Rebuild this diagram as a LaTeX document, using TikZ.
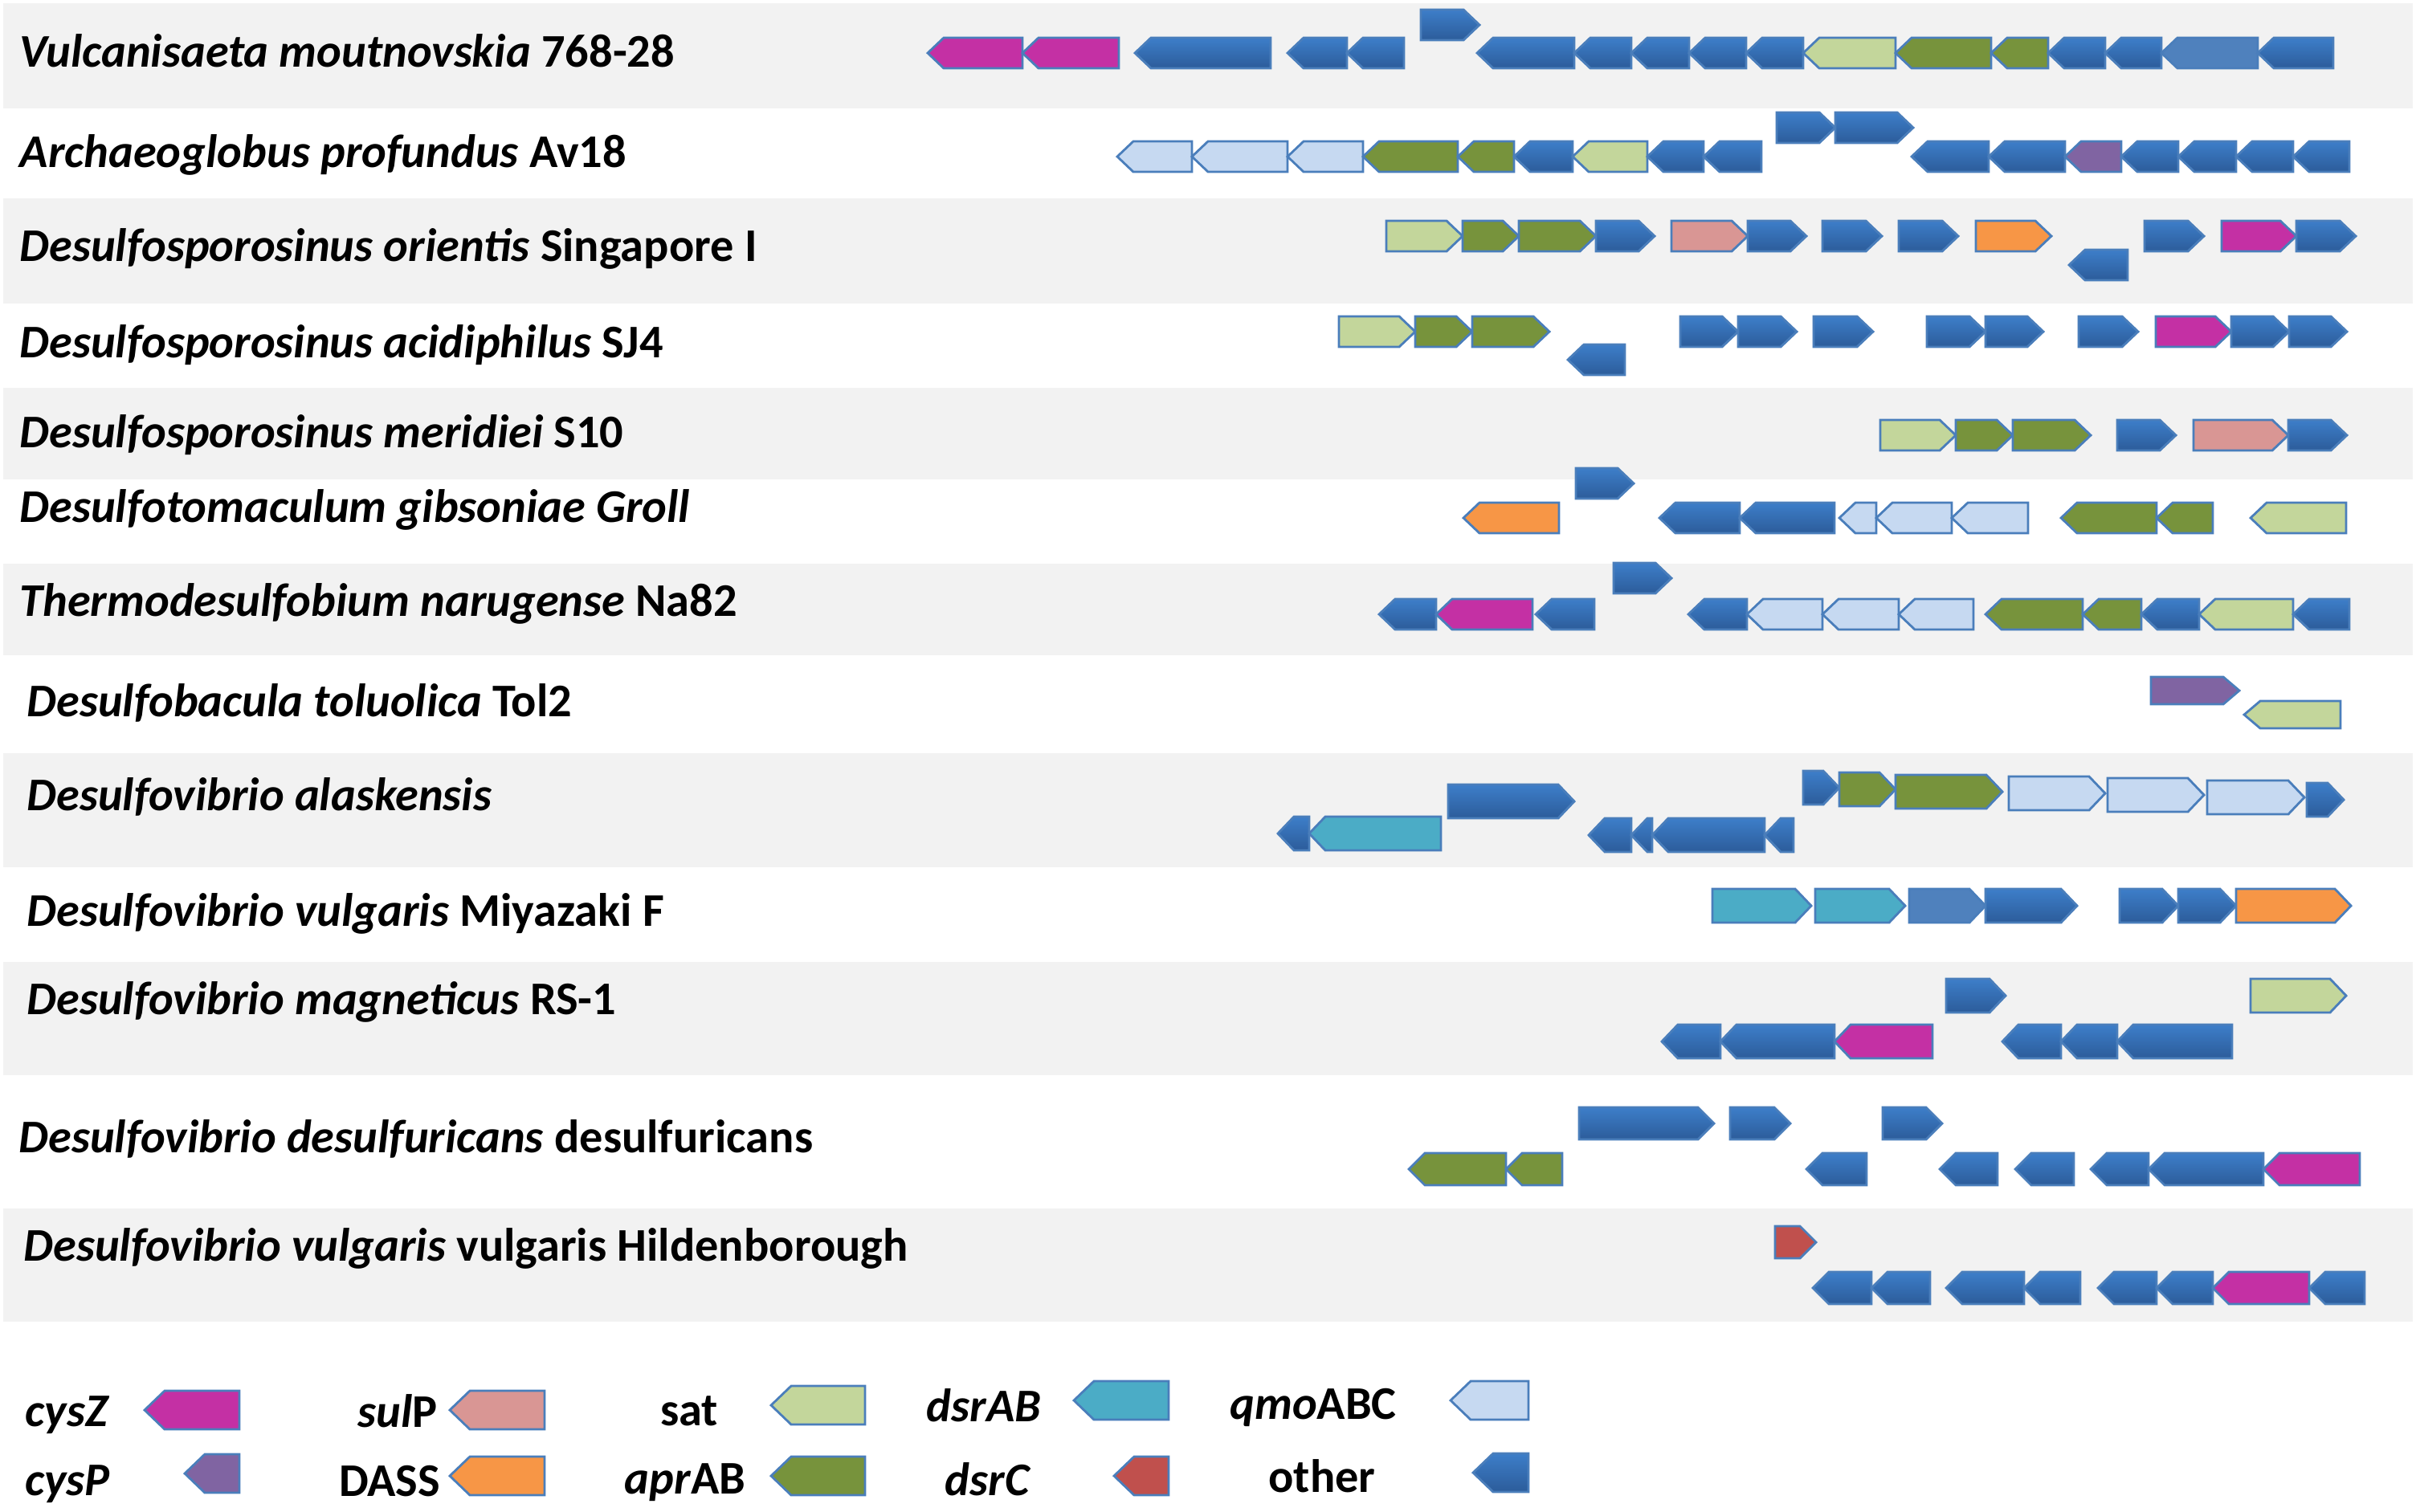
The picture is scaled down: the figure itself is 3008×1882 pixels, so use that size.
\documentclass[tikz,border=0pt]{standalone}
\usepackage{fontspec}
\setmainfont{Carlito}
\definecolor{bandgray}{RGB}{242,242,242}
\definecolor{genedge}{RGB}{74,126,187}
\definecolor{othtop}{RGB}{61,126,201}
\definecolor{othbot}{RGB}{44,92,154}
\definecolor{othflat}{RGB}{79,129,189}
\definecolor{cyszcol}{RGB}{196,48,164}
\definecolor{cyspcol}{RGB}{128,100,162}
\definecolor{sulpcol}{RGB}{217,150,148}
\definecolor{dasscol}{RGB}{247,150,70}
\definecolor{satcol}{RGB}{195,214,155}
\definecolor{aprcol}{RGB}{119,147,60}
\definecolor{dsrabcol}{RGB}{75,172,198}
\definecolor{dsrccol}{RGB}{192,80,77}
\definecolor{qmocol}{RGB}{198,217,241}
\newcommand{\hh}{19}
\newcommand{\tp}{20}
\newcommand{\gfwd}[4]{\path[#1] (#2,#4-\hh) -- (#3-\tp,#4-\hh) -- (#3,#4) -- (#3-\tp,#4+\hh) -- (#2,#4+\hh) -- cycle;}
\newcommand{\grev}[4]{\path[#1] (#2,#4) -- (#2+\tp,#4-\hh) -- (#3,#4-\hh) -- (#3,#4+\hh) -- (#2+\tp,#4+\hh) -- cycle;}
\tikzset{
  gene/.style={draw=genedge, line width=0.8pt, line join=miter},
  goth/.style={gene, top color=othtop, bottom color=othbot},
  gothb/.style={gene, fill=othflat},
  gcysZ/.style={gene, fill=cyszcol},
  gcysP/.style={gene, fill=cyspcol},
  gsulP/.style={gene, fill=sulpcol},
  gdass/.style={gene, fill=dasscol},
  gsat/.style={gene, fill=satcol},
  gapr/.style={gene, fill=aprcol},
  gdsrab/.style={gene, fill=dsrabcol},
  gdsrc/.style={gene, fill=dsrccol},
  gqmo/.style={gene, fill=qmocol},
  band/.style={fill=bandgray},
  lab/.style={anchor=base west, inner sep=0pt, font=\fontsize{16.6}{19}\selectfont\bfseries},
  key/.style={anchor=base, inner sep=0pt, font=\fontsize{16.6}{19}\selectfont\bfseries}
}
\begin{document}
\begin{tikzpicture}[x=0.1mm,y=-0.1mm]
  \useasboundingbox (0,0) rectangle (3008,1882);
  \fill[band] (4,4) rectangle (3004,135);
  \fill[band] (4,247) rectangle (3004,378);
  \fill[band] (4,483) rectangle (3004,597);
  \fill[band] (4,702) rectangle (3004,816);
  \fill[band] (4,938) rectangle (3004,1080);
  \fill[band] (4,1198) rectangle (3004,1339);
  \fill[band] (4,1505) rectangle (3004,1646);

  \node[lab] (sp1) at (24,83) {\textit{Vulcanisaeta moutnovskia} 768-28};
  \node[lab] (sp2) at (24,208) {\textit{Archaeoglobus profundus} Av18};
  \node[lab] (sp3) at (24,325) {\textit{Desulfosporosinus orientis} Singapore I};
  \node[lab] (sp4) at (24,445) {\textit{Desulfosporosinus acidiphilus} SJ4};
  \node[lab] (sp5) at (24,557) {\textit{Desulfosporosinus meridiei} S10};
  \node[lab] (sp6) at (24,650) {\textit{Desulfotomaculum gibsoniae Groll}};
  \node[lab] (sp7) at (24,767) {\textit{Thermodesulfobium narugense} Na82};
  \node[lab] (sp8) at (33,892) {\textit{Desulfobacula toluolica} Tol2};
  \node[lab] (sp9) at (33,1009) {\textit{Desulfovibrio alaskensis}};
  \node[lab] (sp10) at (33,1153) {\textit{Desulfovibrio vulgaris} Miyazaki F};
  \node[lab] (sp11) at (33,1263) {\textit{Desulfovibrio magneticus} RS-1};
  \node[lab] (sp12) at (23,1435) {\textit{Desulfovibrio desulfuricans} desulfuricans};
  \node[lab] (sp13) at (29,1570) {\textit{Desulfovibrio vulgaris} vulgaris Hildenborough};

  \grev{gcysZ}{1155}{1273}{66}
  \grev{gcysZ}{1273}{1393}{66}
  \grev{goth}{1413}{1582}{66}
  \grev{goth}{1603}{1677}{66}
  \grev{goth}{1677}{1748}{66}
  \gfwd{goth}{1769}{1842}{31}
  \grev{goth}{1839}{1960}{66}
  \grev{goth}{1960}{2031}{66}
  \grev{goth}{2031}{2103}{66}
  \grev{goth}{2103}{2174}{66}
  \grev{goth}{2174}{2245}{66}
  \grev{gsat}{2245}{2360}{66}
  \grev{gapr}{2360}{2479}{66}
  \grev{gapr}{2479}{2550}{66}
  \grev{goth}{2550}{2621}{66}
  \grev{goth}{2621}{2691}{66}
  \grev{gothb}{2691}{2811}{66}
  \grev{goth}{2811}{2905}{66}

  \grev{gqmo}{1391}{1484}{195}
  \grev{gqmo}{1484}{1603}{195}
  \grev{gqmo}{1603}{1697}{195}
  \grev{gapr}{1697}{1815}{195}
  \grev{gapr}{1815}{1885}{195}
  \grev{goth}{1885}{1958}{195}
  \grev{gsat}{1958}{2051}{195}
  \grev{goth}{2051}{2121}{195}
  \grev{goth}{2121}{2193}{195}
  \gfwd{goth}{2212}{2285}{159}
  \gfwd{goth}{2285}{2382}{159}
  \grev{goth}{2380}{2476}{195}
  \grev{goth}{2476}{2571}{195}
  \grev{gcysP}{2571}{2641}{195}
  \grev{goth}{2641}{2712}{195}
  \grev{goth}{2712}{2784}{195}
  \grev{goth}{2784}{2855}{195}
  \grev{goth}{2855}{2925}{195}

  \gfwd{gsat}{1726}{1821}{294}
  \gfwd{gapr}{1821}{1891}{294}
  \gfwd{gapr}{1891}{1987}{294}
  \gfwd{goth}{1987}{2060}{294}
  \gfwd{gsulP}{2081}{2176}{294}
  \gfwd{goth}{2176}{2249}{294}
  \gfwd{goth}{2269}{2343}{294}
  \gfwd{goth}{2364}{2438}{294}
  \gfwd{gdass}{2460}{2554}{294}
  \grev{goth}{2576}{2649}{330}
  \gfwd{goth}{2670}{2744}{294}
  \gfwd{gcysZ}{2766}{2859}{294}
  \gfwd{goth}{2859}{2933}{294}

  \gfwd{gsat}{1667}{1762}{413}
  \gfwd{gapr}{1762}{1833}{413}
  \gfwd{gapr}{1833}{1929}{413}
  \grev{goth}{1952}{2023}{448}
  \gfwd{goth}{2092}{2164}{413}
  \gfwd{goth}{2164}{2237}{413}
  \gfwd{goth}{2258}{2332}{413}
  \gfwd{goth}{2399}{2472}{413}
  \gfwd{goth}{2472}{2544}{413}
  \gfwd{goth}{2588}{2662}{413}
  \gfwd{gcysZ}{2684}{2778}{413}
  \gfwd{goth}{2778}{2850}{413}
  \gfwd{goth}{2850}{2922}{413}

  \gfwd{gsat}{2341}{2435}{542}
  \gfwd{gapr}{2435}{2506}{542}
  \gfwd{gapr}{2506}{2603}{542}
  \gfwd{goth}{2636}{2709}{542}
  \gfwd{gsulP}{2731}{2849}{542}
  \gfwd{goth}{2849}{2922}{542}

  \gfwd{goth}{1962}{2034}{602}
  \grev{gdass}{1822}{1941}{645}
  \grev{goth}{2066}{2166}{645}
  \grev{goth}{2166}{2284}{645}
  \grev{gqmo}{2290}{2336}{645}
  \grev{gqmo}{2336}{2430}{645}
  \grev{gqmo}{2430}{2525}{645}
  \grev{gapr}{2566}{2685}{645}
  \grev{gapr}{2685}{2755}{645}
  \grev{gsat}{2802}{2921}{645}

  \gfwd{goth}{2009}{2081}{720}
  \grev{goth}{1717}{1788}{765}
  \grev{gcysZ}{1788}{1908}{765}
  \grev{goth}{1912}{1985}{765}
  \grev{goth}{2102}{2175}{765}
  \grev{gqmo}{2175}{2269}{765}
  \grev{gqmo}{2269}{2364}{765}
  \grev{gqmo}{2364}{2457}{765}
  \grev{gapr}{2472}{2593}{765}
  \grev{gapr}{2593}{2666}{765}
  \grev{goth}{2666}{2738}{765}
  \grev{gsat}{2738}{2855}{765}
  \grev{goth}{2855}{2925}{765}

  \renewcommand{\hh}{17}
  \gfwd{gcysP}{2678}{2788}{860}
  \grev{gsat}{2794}{2914}{890}

  \renewcommand{\hh}{21}
  \gfwd{goth}{2245}{2290}{981}
  \gfwd{gapr}{2290}{2360}{983}
  \gfwd{gapr}{2360}{2493}{986}
  \gfwd{gqmo}{2501}{2621}{988}
  \gfwd{gqmo}{2624}{2744}{990}
  \gfwd{gqmo}{2748}{2869}{993}
  \gfwd{goth}{2872}{2918}{996}
  \gfwd{goth}{1803}{1960}{998}
  \grev{goth}{1591}{1630}{1038}
  \grev{gdsrab}{1630}{1794}{1038}
  \grev{goth}{1978}{2031}{1040}
  \grev{goth}{2031}{2057}{1040}
  \grev{goth}{2057}{2197}{1040}
  \grev{goth}{2197}{2233}{1040}

  \gfwd{gdsrab}{2132}{2255}{1128}
  \gfwd{gdsrab}{2260}{2372}{1128}
  \gfwd{gothb}{2377}{2472}{1128}
  \gfwd{goth}{2472}{2586}{1128}
  \gfwd{goth}{2639}{2712}{1128}
  \gfwd{goth}{2712}{2784}{1128}
  \gfwd{gdass}{2784}{2927}{1128}

  \gfwd{goth}{2423}{2497}{1240}
  \gfwd{gsat}{2802}{2921}{1240}
  \grev{goth}{2069}{2142}{1297}
  \grev{goth}{2142}{2284}{1297}
  \grev{gcysZ}{2284}{2406}{1297}
  \grev{goth}{2493}{2566}{1297}
  \grev{goth}{2566}{2636}{1297}
  \grev{goth}{2636}{2779}{1297}

  \renewcommand{\hh}{20}
  \gfwd{goth}{1966}{2134}{1399}
  \gfwd{goth}{2154}{2229}{1399}
  \gfwd{goth}{2344}{2418}{1399}
  \grev{gapr}{1754}{1875}{1456}
  \grev{gapr}{1875}{1945}{1456}
  \grev{goth}{2249}{2324}{1456}
  \grev{goth}{2415}{2487}{1456}
  \grev{goth}{2509}{2582}{1456}
  \grev{goth}{2603}{2675}{1456}
  \grev{goth}{2675}{2818}{1456}
  \grev{gcysZ}{2818}{2938}{1456}

  \gfwd{gdsrc}{2210}{2261}{1547}
  \grev{goth}{2257}{2330}{1604}
  \grev{goth}{2330}{2403}{1604}
  \grev{goth}{2423}{2520}{1604}
  \grev{goth}{2520}{2590}{1604}
  \grev{goth}{2612}{2685}{1604}
  \grev{goth}{2685}{2755}{1604}
  \grev{gcysZ}{2755}{2875}{1604}
  \grev{goth}{2875}{2944}{1604}

  \renewcommand{\hh}{24}
  \renewcommand{\tp}{25}
  \node[key] (kcysZ) at (84,1776) {\textit{cysZ}};
  \node[key] (kcysP) at (84,1862) {\textit{cysP}};
  \node[key] (ksulP) at (495,1777) {\textit{sul}P};
  \node[key] (kdass) at (485,1863) {DASS};
  \node[key] (ksat) at (858,1775) {sat};
  \node[key] (kapr) at (853,1860) {\textit{apr}AB};
  \node[key] (kdsrab) at (1225,1770) {\textit{dsrAB}};
  \node[key] (kdsrc) at (1230,1862) {\textit{dsrC}};
  \node[key] (kqmo) at (1635,1767) {\textit{qmo}ABC};
  \node[key] (koth) at (1646,1858) {other};
  \grev{gcysZ}{180}{298}{1756}
  \grev{gcysP}{230}{298}{1835}
  \grev{gsulP}{560}{678}{1756}
  \grev{gdass}{560}{678}{1838}
  \grev{gsat}{960}{1077}{1750}
  \grev{gapr}{960}{1077}{1838}
  \grev{gdsrab}{1337}{1455}{1744}
  \grev{gdsrc}{1387}{1455}{1838}
  \grev{gqmo}{1806}{1903}{1744}
  \grev{goth}{1834}{1903}{1834}
\end{tikzpicture}
\end{document}
